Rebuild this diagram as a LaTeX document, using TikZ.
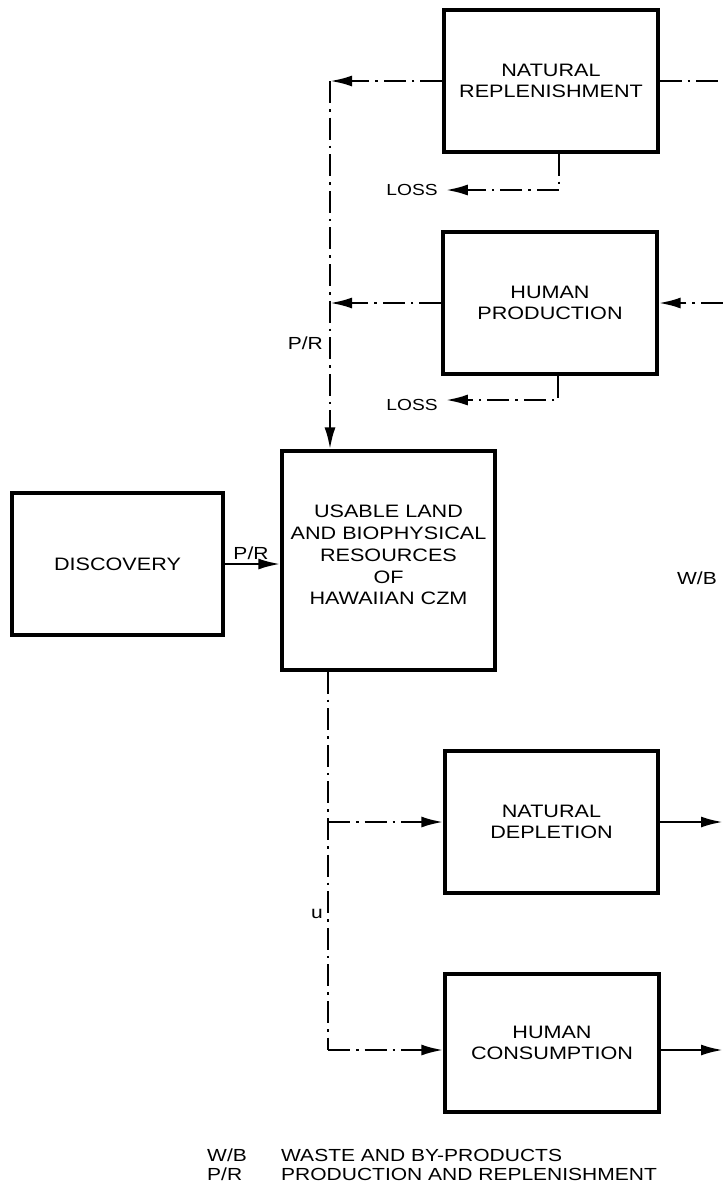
\documentclass[tikz,border=0pt]{standalone}
\usepackage{fontspec}
\newfontfamily\lab{Liberation Sans}[FakeStretch=1.2]
\usetikzlibrary{arrows.meta}
\tikzset{
  box/.style={draw, line width=3.3pt, minimum width=214pt, minimum height=142pt, align=center, inner sep=0pt, font=\lab\fontsize{18}{21}\selectfont},
  lbl/.style={inner sep=3pt, align=center, font=\lab\fontsize{17.5}{21}\selectfont},
  losslbl/.style={lbl, font=\lab\fontsize{16}{21}\selectfont},
  dd/.style={line width=2.6pt, dash pattern=on 22pt off 6pt on 2.6pt off 6pt},
  sol/.style={line width=2.6pt},
  arr/.style={-{Latex[length=22pt,width=11pt]}}
}
\begin{document}
\begin{tikzpicture}[x=1pt,y=-1pt]
\useasboundingbox (0,0) rectangle (723,1187);
% boxes
\node[box] (nr) at (551,81) {NATURAL\\REPLENISHMENT};
\node[box] (hp) at (550,303) {HUMAN\\PRODUCTION};
\node[box, minimum width=213pt, minimum height=219pt] (us) at (388.5,560.5) {};
\node[lbl, font=\lab\fontsize{18}{21.8}\selectfont] (ust) at (388.5,555) {USABLE LAND\\AND BIOPHYSICAL\\RESOURCES\\OF\\HAWAIIAN CZM};
\node[box, minimum width=211pt] (disc) at (117.5,564) {DISCOVERY};
\node[box, minimum width=213pt] (nd) at (551.5,822) {NATURAL\\DEPLETION};
\node[box, minimum height=138pt] (hc) at (552,1043) {HUMAN\\CONSUMPTION};
% labels
\node[losslbl] (loss1) at (412,190) {LOSS};
\node[losslbl] (loss2) at (412,405) {LOSS};
\node[lbl, anchor=east] (pr1) at (326,343) {P/R};
\node[lbl] (pr2) at (251,553) {P/R};
\node[lbl] (wb) at (697,578) {W/B};
\node[lbl] (u) at (317,914) {u};
\node[lbl, anchor=base west, inner sep=0pt] (lw) at (207,1161) {W/B};
\node[lbl, anchor=base west, inner sep=0pt] (lwt) at (281,1161) {WASTE AND BY-PRODUCTS};
\node[lbl, anchor=base west, inner sep=0pt] (lp) at (207,1180) {P/R};
\node[lbl, anchor=base west, inner sep=0pt] (lpt) at (281,1180) {PRODUCTION AND REPLENISHMENT};
% coordinates
\coordinate (tl) at (330,81);
\coordinate (re1) at (723,81);
\coordinate (re2) at (723,303);
\coordinate (bl) at (328,1050);
\coordinate (rd) at (723,822);
\coordinate (rc) at (723,1050);
% connectors
\draw[dd, arr] (nr.west) -- (tl);
\draw[dd, arr] (tl) -- (tl |- us.north);
\draw[dd] (nr.east) -- (re1);
\draw[dd, arr] (hp.west) -- (hp.west -| tl);
\draw[dd, arr] (re2) -- (hp.east);
\draw[dd, arr] ([xshift=8pt]nr.south) |- ([xshift=5pt]loss1.east);
\draw[dd, arr] ([xshift=8pt]hp.south) |- ([xshift=5pt,yshift=5pt]loss2.east);
\draw[sol, arr] (disc.east) -- (disc.east -| us.west);
\draw[dd] (us.south -| bl) -- (bl);
\draw[dd, arr] (nd.west -| bl) -- (nd.west);
\draw[dd, arr] (bl) -- (hc.west |- bl);
\draw[sol, arr] (nd.east) -- (rd);
\draw[sol, arr] (hc.east |- rc) -- (rc);
\end{tikzpicture}
\end{document}
